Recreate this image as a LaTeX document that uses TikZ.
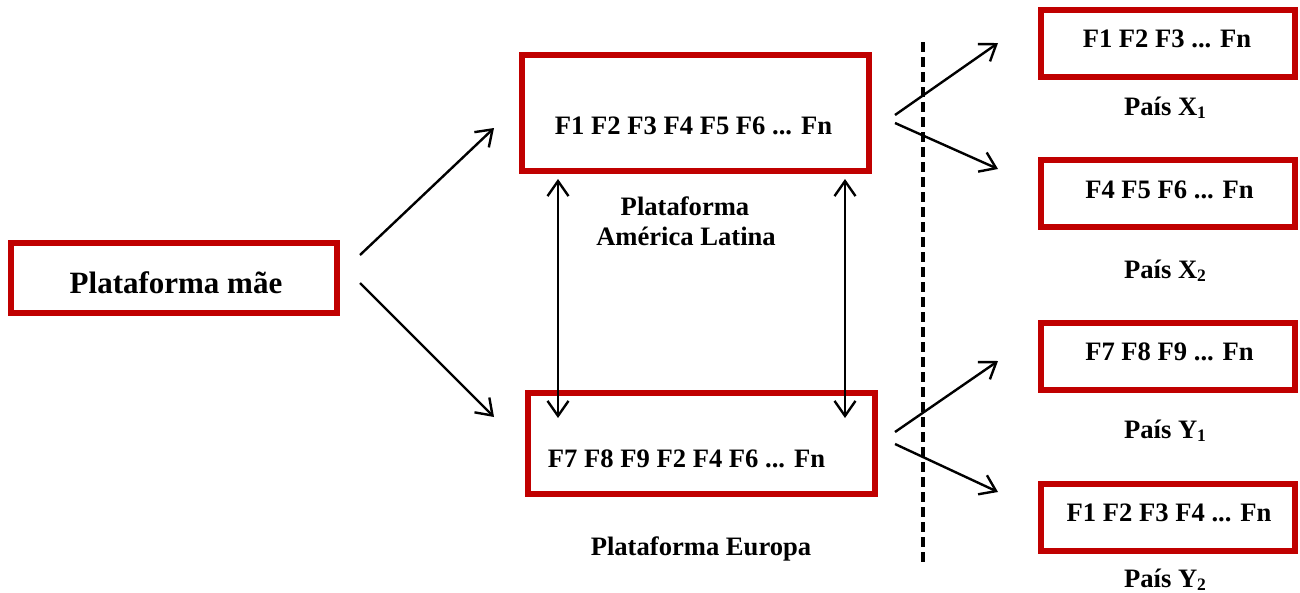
\documentclass[tikz,border=0pt]{standalone}
\usepackage{fontspec}
\setmainfont{Liberation Serif}
\usetikzlibrary{arrows.meta}
\definecolor{boxred}{RGB}{192,0,0}
\newcommand{\idx}[1]{\raisebox{-3.5pt}{\fontsize{17.5}{18}\selectfont #1}}
\begin{document}
\begin{tikzpicture}[x=1pt,y=-1pt,
  frame/.style={draw=boxred, line width=6pt, rectangle, inner sep=0pt},
  wide/.style={frame, minimum width=347pt},
  small/.style={frame, minimum width=254pt, minimum height=67pt},
  txt/.style={font=\fontsize{26.6}{30}\selectfont\bfseries, inner sep=0pt, anchor=base},
  big/.style={font=\fontsize{31}{36}\selectfont\bfseries, inner sep=0pt, anchor=base},
  barb/.tip={Straight Barb[length=15pt,width=21pt]},
  link/.style={line width=2.4pt, -barb},
  both/.style={line width=2.4pt, barb-barb},
  divider/.style={line width=3.4pt, dash pattern=on 10pt off 5pt}]
\useasboundingbox (0,0) rectangle (1300,592);

% platform boxes
\node[frame, minimum width=326pt, minimum height=70pt] (mae) at (174,278) {};
\node[big] (maet) at (176,293) {Plataforma mãe};

\node[wide, minimum height=115.5pt] (al) at (695.5,113) {};
\node[txt] (alt) at (693.5,134.6) {F1 F2 F3 F4 F5 F6 ... Fn};
\node[txt] (alname1) at (685,215) {Plataforma};
\node[txt] (alname2) at (686,245) {América Latina};

\node[wide, minimum height=101pt] (eu) at (701.5,443.5) {};
\node[txt] (eut) at (686.5,467) {F7 F8 F9 F2 F4 F6 ... Fn};
\node[txt] (euname) at (701,555) {Plataforma Europa};

% country boxes
\node[small] (x1) at (1168,43.5) {};
\node[txt] (x1t) at (1167,47) {F1 F2 F3 ... Fn};
\node[txt] (x1n) at (1165,115) {País X\idx{1}};

\node[small] (x2) at (1168,193.5) {};
\node[txt] (x2t) at (1169.5,198) {F4 F5 F6 ... Fn};
\node[txt] (x2n) at (1165,278) {País X\idx{2}};

\node[small] (y1) at (1168,356) {};
\node[txt] (y1t) at (1169.5,360) {F7 F8 F9 ... Fn};
\node[txt] (y1n) at (1165,438) {País Y\idx{1}};

\node[small] (y2) at (1168,517.5) {};
\node[txt] (y2t) at (1169,521) {F1 F2 F3 F4 ... Fn};
\node[txt] (y2n) at (1165,587) {País Y\idx{2}};

% connector end points
\coordinate (m1) at (360,255);  \coordinate (a1) at (494,128);
\coordinate (m2) at (360,283);  \coordinate (e1) at (494,417);
\coordinate (la) at (558,179);  \coordinate (le) at (558,418);
\coordinate (ra) at (845,179);  \coordinate (re) at (845,418);
\coordinate (ao1) at (895,115); \coordinate (xi1) at (998,43);
\coordinate (ao2) at (895,123); \coordinate (xi2) at (998,169);
\coordinate (eo1) at (895,432); \coordinate (yi1) at (998,361);
\coordinate (eo2) at (895,444); \coordinate (yi2) at (998,492);
\coordinate (dtop) at (923,42); \coordinate (dbot) at (923,562);

% regional split line
\draw[divider] (dtop) -- (dbot);

% connectors
\draw[link] (m1) -- (a1);
\draw[link] (m2) -- (e1);
\draw[both] (la) -- (le);
\draw[both] (ra) -- (re);
\draw[link] (ao1) -- (xi1);
\draw[link] (ao2) -- (xi2);
\draw[link] (eo1) -- (yi1);
\draw[link] (eo2) -- (yi2);
\end{tikzpicture}
\end{document}
